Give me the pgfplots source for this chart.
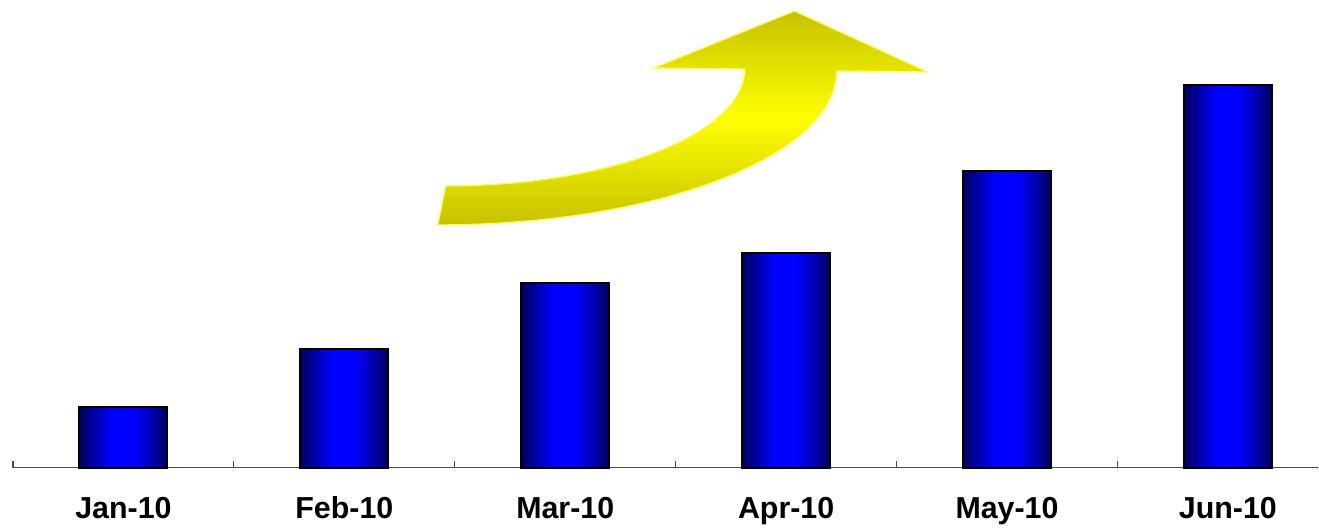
\documentclass[border=0pt]{standalone}
\usepackage{pgfplots}
\pgfplotsset{compat=1.18}
\usepackage{fontspec}
\setmainfont{Liberation Sans}
\definecolor{navyedge}{rgb}{0,0,0.36}
\definecolor{midblue}{rgb}{0,0,0.62}
\definecolor{brightblue}{rgb}{0,0,1}
\definecolor{olivey}{rgb}{0.78,0.76,0}
\definecolor{axgray}{rgb}{0.3,0.3,0.3}
\pgfdeclarehorizontalshading{barshade}{100bp}{color(0bp)=(navyedge); color(25bp)=(navyedge); color(32bp)=(midblue); color(43bp)=(brightblue); color(56bp)=(brightblue); color(68bp)=(midblue); color(75bp)=(navyedge); color(100bp)=(navyedge)}
\pgfplotsset{bluebar/.style={ybar, bar width=88, bar shift=0pt, draw=black, line width=2bp,
  shading=barshade}}
\begin{document}
\begin{tikzpicture}
\begin{axis}[
  width=1306bp, height=468bp, scale only axis,
  xmin=13, xmax=1319, ymin=0, ymax=468,
  clip=false,
  axis x line*=bottom, axis y line=none,
  axis line style={axgray, line width=1.3bp},
  xtick={123.5,344.5,565.5,786.5,1007.5,1228.5},
  xticklabels={Jan-10,Feb-10,Mar-10,Apr-10,May-10,Jun-10},
  minor xtick={13,234,455,676,897,1118},
  major tick length=0pt, minor tick length=7bp,
  xtick align=inside,
  minor tick style={axgray, line width=1.1bp},
  xticklabel style={anchor=base, yshift=-51bp, font=\fontsize{30.5}{32}\selectfont\bfseries},
  typeset ticklabels with strut=false,
]
\addplot[bluebar] coordinates {(123.5,61)};
\addplot[bluebar] coordinates {(344.5,119)};
\addplot[bluebar] coordinates {(565.5,185)};
\addplot[bluebar] coordinates {(786.5,215)};
\addplot[bluebar] coordinates {(1007.5,297)};
\addplot[bluebar] coordinates {(1228.5,383)};
\path (axis cs:0,-58) -- (axis cs:1319,468);
% curved arrow annotation (image px X, 468-Y)
\filldraw[draw={rgb,1:red,1;green,1;blue,0.35}, line width=1.2bp,
  top color=olivey, bottom color=olivey, middle color={rgb,1:red,1;green,1;blue,0}]
  (axis cs:438,243)
  .. controls (axis cs:658,243) and (axis cs:837,312) .. (axis cs:837,397)
  -- (axis cs:928,396) -- (axis cs:795,457) -- (axis cs:654,400) -- (axis cs:745,399)
  .. controls (axis cs:745,334) and (axis cs:611,282) .. (axis cs:446,282)
  -- cycle;
\end{axis}
\end{tikzpicture}
\end{document}
